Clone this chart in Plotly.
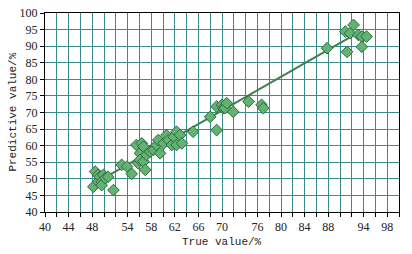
import plotly.graph_objects as go

true_vals = [48.2, 48.5, 49.0, 49.0, 49.3, 49.6, 49.6, 49.9, 50.2, 50.7, 51.6, 53.0, 53.9, 54.7,
             55.5, 55.8, 56.1, 56.1, 56.4, 56.7, 56.7, 57.0, 57.2, 57.8, 58.4, 58.9, 59.2, 59.5,
             60.1, 60.6, 60.9, 61.5, 61.8, 62.3, 62.3, 62.9, 63.2, 65.1, 68.0, 69.1, 69.1, 70.0,
             70.2, 70.5, 70.8, 71.9, 74.5, 76.7, 77.0, 87.8, 90.9, 91.2, 91.7, 92.3, 93.1, 93.7,
             93.7, 94.5]
pred_vals = [47.6, 52.2, 51.2, 49.1, 50.6, 49.1, 48.1, 51.2, 50.2, 50.6, 46.6, 54.2, 53.7, 51.5,
             60.2, 54.7, 57.7, 55.7, 60.7, 59.7, 55.2, 52.7, 57.2, 58.2, 58.7, 60.2, 61.7, 57.7,
             60.7, 63.2, 61.7, 60.2, 62.7, 60.2, 64.2, 63.2, 60.7, 64.2, 68.7, 71.8, 64.7, 72.3,
             71.3, 71.3, 72.8, 70.2, 73.3, 72.3, 71.3, 89.4, 94.4, 88.3, 93.9, 96.4, 93.4, 92.9,
             89.8, 92.9]

fit_x = [48.5, 93.0]
fit_y = [48.7, 94.0]

x_tick_vals = list(range(40, 101, 2))
x_tick_shown = [40, 44, 48, 54, 58, 62, 66, 70, 76, 80, 84, 88, 94, 98]
x_tick_text = [str(v) if v in x_tick_shown else "" for v in x_tick_vals]
y_tick_vals = list(range(40, 101, 5))

fig = go.Figure()
fig.add_trace(go.Scatter(x=fit_x, y=fit_y, mode="lines",
                         line=dict(color="#3f8050", width=2), showlegend=False))
fig.add_trace(go.Scatter(x=true_vals, y=pred_vals, mode="markers",
                         marker=dict(symbol="diamond", size=9, color="#62b274",
                                     line=dict(color="#2e6a3c", width=1)),
                         showlegend=False))

grid_col = "#3a8c8c"
serif = "Liberation Serif, Times New Roman, serif"
mono = "Liberation Mono, Courier New, monospace"
fig.update_layout(
    width=412, height=254,
    margin=dict(l=45, r=13, t=13, b=42, autoexpand=False),
    paper_bgcolor="white", plot_bgcolor="white",
    font=dict(family=serif, color="#222222", size=12),
    xaxis=dict(range=[40, 100], tickvals=x_tick_vals, ticktext=x_tick_text,
               showgrid=True, gridcolor=grid_col, gridwidth=1,
               ticks="outside", ticklen=4, tickcolor="black",
               tickfont=dict(family=serif, size=12),
               showline=True, linecolor="black", linewidth=1, mirror=True,
               zeroline=False, automargin=False),
    yaxis=dict(range=[40, 100], tickvals=y_tick_vals,
               showgrid=True, gridcolor=grid_col, gridwidth=1,
               ticks="outside", ticklen=4, tickcolor="black",
               tickfont=dict(family=serif, size=12),
               showline=True, linecolor="black", linewidth=1, mirror=True,
               zeroline=False, automargin=False),
    annotations=[
        dict(text="True value/%", x=0.5, y=-0.15, xref="paper", yref="paper",
             xanchor="center", yanchor="middle", showarrow=False,
             font=dict(family=mono, size=11, color="#222222")),
        dict(text="Predictive value/%", x=-0.093, y=0.5, xref="paper", yref="paper",
             xanchor="center", yanchor="middle", showarrow=False, textangle=-90,
             font=dict(family=mono, size=11, color="#222222")),
    ],
)
fig.write_html("out.html", config={"displayModeBar": False},
               post_script="document.body.style.margin='0';document.body.style.padding='0';")
